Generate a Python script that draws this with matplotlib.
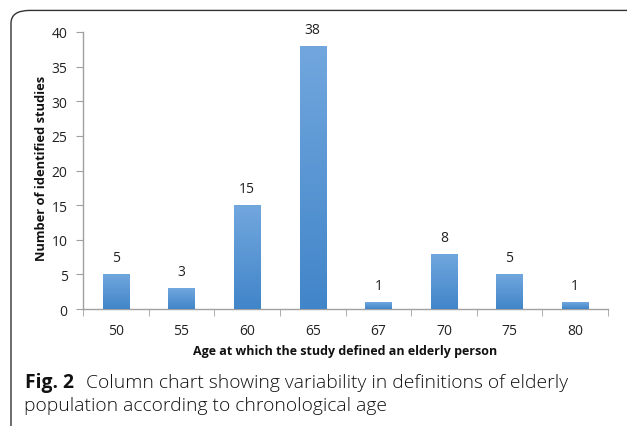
import matplotlib
matplotlib.use("Agg")
import matplotlib.pyplot as plt
import numpy as np
from matplotlib.patches import FancyBboxPatch
from matplotlib.colors import LinearSegmentedColormap

categories = ["50", "55", "60", "65", "67", "70", "75", "80"]
values = [5, 3, 15, 38, 1, 8, 5, 1]
y_ticks = [0, 5, 10, 15, 20, 25, 30, 35, 40]

fig = plt.figure(figsize=(6.27, 4.27), dpi=100)
W, H = 627, 427

# rounded frame (top-left corner)
frame = FancyBboxPatch((11 / W, -0.2), 1.2, (427 - 11) / H + 0.2 - 0.001,
                       boxstyle="round,pad=0,rounding_size=0.03",
                       transform=fig.transFigure, fill=False,
                       edgecolor="#333333", linewidth=1.0, clip_on=False)
fig.patches.append(frame)

ax = fig.add_axes([83 / W, 1 - 310 / H, (608 - 83) / W, (310 - 33) / H])
x = np.arange(len(categories))
bars = ax.bar(x, values, width=0.4, color="#5a97d6", zorder=2)

cmap = LinearSegmentedColormap.from_list("g", ["#4185c9", "#72a7de"])
grad = np.linspace(0, 1, 256).reshape(-1, 1)
for b in bars:
    x0, y0 = b.get_x(), b.get_y()
    w, h = b.get_width(), b.get_height()
    im = ax.imshow(grad, cmap=cmap, origin="lower", aspect="auto",
                   extent=[x0, x0 + w, y0, y0 + h], zorder=3)
    im.set_clip_path(b)

for xi, v in zip(x, values):
    ax.text(xi, v + 1.3, str(v), ha="center", va="bottom",
            fontsize=10, family="Open Sans", color="#222222")

ax.set_xlim(-0.5, len(categories) - 0.5)
ax.set_ylim(0, 40)
ax.set_yticks(y_ticks)
ax.set_yticklabels([str(t) for t in y_ticks], family="Open Sans", fontsize=10)
ax.set_xticks(x)
ax.set_xticklabels(categories, family="Open Sans", fontsize=10)
ax.set_xticks(np.arange(-0.5, len(categories), 1), minor=True)
ax.tick_params(axis="x", which="major", length=0, pad=10, colors="#222222")
ax.tick_params(axis="x", which="minor", length=5, color="#a0a0a0", direction="out")
ax.tick_params(axis="y", length=5, color="#a0a0a0", colors="#222222", pad=6)
for s in ["top", "right"]:
    ax.spines[s].set_visible(False)
for s in ["left", "bottom"]:
    ax.spines[s].set_color("#a0a0a0")
    ax.spines[s].set_linewidth(1.0)
ax.set_facecolor("none")

fig.text(345 / W, 1 - 352 / H, "Age at which the study defined an elderly person",
         ha="center", va="center", fontsize=9, fontweight="bold",
         family="Open Sans", color="#111111")
fig.text(42 / W, 1 - 168 / H, "Number of identified studies",
         ha="center", va="center", rotation=90, fontsize=9.3, fontweight="bold",
         family="Open Sans", color="#111111")

fig.text(25 / W, 1 - 383 / H, "Fig. 2", ha="left", va="center",
         fontsize=13.9, fontweight="bold", family="Open Sans", color="#111111")
fig.text(86 / W, 1 - 383 / H,
         "Column chart showing variability in definitions of elderly",
         ha="left", va="center", fontsize=13.9, family="Open Sans",
         fontweight="light", color="#111111")
fig.text(24 / W, 1 - 406 / H, "population according to chronological age",
         ha="left", va="center", fontsize=13.9, family="Open Sans",
         fontweight="light", color="#111111")

fig.savefig("out.png", dpi=100)
